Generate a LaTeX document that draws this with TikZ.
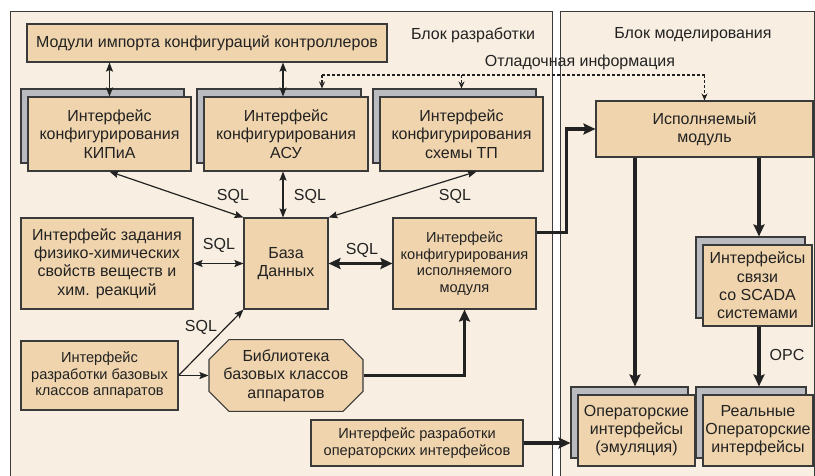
\documentclass[tikz,border=0pt]{standalone}
\usepackage{fontspec}
\setmainfont{Liberation Sans}
\usetikzlibrary{
        arrows.meta,
        positioning,
        shadows,
        shapes.misc
    }
\definecolor{boxfill}{HTML}{EFD4AD}
\definecolor{panelfill}{HTML}{F8EEE1}
\definecolor{shadowgray}{HTML}{B9BBC0}
\definecolor{edgegray}{HTML}{3A3A3A}
\definecolor{inkgray}{HTML}{222222}
\tikzset{>={Stealth[length=9pt,width=7pt,inset=1.5pt]},auto}
\tikzset{bigtip/.tip={Stealth[length=12pt,width=11pt,inset=2pt]}}
\tikzset{
        block/.style={draw=edgegray,fill=boxfill,line width=1.1pt,inner sep=0pt,align=center,
            text=inkgray,font=\fontsize{16}{18.3}\selectfont},
        smallblock/.style={block,font=\fontsize{14.6}{16.5}\selectfont},
        stacked/.style={copy shadow={shadow xshift=-7pt,shadow yshift=8pt,fill=shadowgray,
            draw=edgegray,line width=1.1pt}},
        panel/.style={draw=edgegray,fill=panelfill,line width=0.9pt},
        lbl/.style={text=inkgray,font=\fontsize{16}{18}\selectfont},
        sqlline/.style={<->,line width=1.2pt,draw=inkgray},
        oneway/.style={->,line width=1.2pt,draw=inkgray},
        bigline/.style={-bigtip,line width=3.5pt,draw=inkgray},
        dbgline/.style={densely dashed,line width=1.1pt,draw=inkgray,
            -{Stealth[length=7pt,width=6pt]}}
    }

\begin{document}
\begin{tikzpicture}[x=1pt,y=-1pt]
                \useasboundingbox (0,0) rectangle (815,475);
                % panels
                \path[panel] (10,11) rectangle (552,480);
                \path[panel] (560,11) rectangle (814,480);
                \node[lbl] (devtitle) at (473,35) {Блок разработки};
                \node[lbl] (simtitle) at (693,35) {Блок моделирования};
                \node[lbl] (dbgtitle) at (580,62) {Отладочная информация};

                % development block
                \node[block,minimum width=360pt,minimum height=38pt] (mods) at (207,43) {Модули импорта конфигураций контроллеров};
                \node[block,stacked,minimum width=163pt,minimum height=74pt] (kip) at (109.5,134) {Интерфейс\\конфигурирования\\КИПиА};
                \node[block,stacked,minimum width=164pt,minimum height=74pt] (asu) at (286,134) {Интерфейс\\конфигурирования\\АСУ};
                \node[block,stacked,minimum width=163pt,minimum height=74pt] (tp) at (461.5,134) {Интерфейс\\конфигурирования\\схемы ТП};
                \node[block,minimum width=84pt,minimum height=91pt] (db) at (286,263.5) {База\\Данных};
                \node[block,minimum width=172pt,minimum height=91pt] (chem) at (107,263.5) {Интерфейс задания\\физико-химических\\свойств веществ и\\хим. реакций};
                \node[smallblock,minimum width=143pt,minimum height=91pt] (cfgexe) at (464.5,263.5) {Интерфейс\\конфигурирования\\исполняемого\\модуля};
                \node[smallblock,minimum width=157pt,minimum height=69pt] (devbase) at (99.5,375.5) {Интерфейс\\разработки базовых\\классов аппаратов};
                \node[block,chamfered rectangle,chamfered rectangle xsep=10pt,chamfered rectangle ysep=10pt,
                    minimum width=154pt,minimum height=69pt] (lib) at (286,375.5) {Библиотека\\базовых классов\\аппаратов};
                \node[smallblock,minimum width=212pt,minimum height=46pt] (opdev) at (417,443) {Интерфейс разработки\\операторских интерфейсов};

                % simulation block
                \node[block,minimum width=217pt,minimum height=56pt] (exe) at (704.5,129) {Исполняемый\\модуль};
                \node[block,stacked,minimum width=117pt,minimum height=71pt] (emu) at (636.5,430.5) {Операторские\\интерфейсы\\(эмуляция)};
                \node[block,stacked,minimum width=109pt,minimum height=81pt] (scada) at (757.5,285.5) {Интерфейсы\\связи\\со SCADA\\системами};
                \node[block,stacked,minimum width=110pt,minimum height=71pt] (real) at (758,430.5) {Реальные\\Операторские\\интерфейсы};

                % helper points
                \coordinate (asuin) at ([xshift=-3pt]asu.north);
                \coordinate (asuout) at ([xshift=-3pt]asu.south);
                \coordinate (tpout) at ([xshift=15pt]tp.south);
                \coordinate (dbgL) at (322,75);
                \coordinate (dbgR) at (dbgL -| exe.north);
                \coordinate (emutop) at ([xshift=-1.5pt,yshift=8pt]emu.north);
                \coordinate (emuleft) at ([xshift=-7pt]emu.west);
                \coordinate (scadatop) at ([xshift=1.5pt,yshift=8pt]scada.north);
                \coordinate (realtop) at ([xshift=1pt,yshift=8pt]real.north);
                \coordinate (bend) at ([xshift=-29pt]exe.west);

                % connectors
                \draw[sqlline] (mods.south -| kip.north) -- (kip.north);
                \draw[sqlline] (mods.south -| asuin) -- (asuin);
                \draw[sqlline] (kip.south) -- (db.north west);
                \draw[sqlline] (asuout) -- (asuout |- db.north);
                \draw[sqlline] (tpout) -- (db.north east);
                \draw[sqlline] (chem.east) -- (db.west);
                \draw[oneway] (devbase.east) -- (db.south west);
                \draw[oneway] (devbase.east) -- (lib.west);
                \draw[bigline,bigtip-bigtip] (db.east) -- (cfgexe.west);
                \draw[bigline] (lib.east) -| (cfgexe.south);
                \draw[bigline] ([yshift=-15pt]cfgexe.north east) -| (bend) -- (exe.west);
                \draw[bigline] (opdev.east) -- (opdev.east -| emuleft);
                \draw[bigline] (exe.south -| emutop) -- (emutop);
                \draw[bigline] (exe.south -| scadatop) -- (scadatop);
                \draw[bigline] (scada.south -| realtop) -- (realtop);
                \draw[densely dashed,line width=1.1pt,draw=inkgray] (dbgL) -- (dbgR);
                \draw[dbgline,shorten >=8pt] (dbgL) -- (dbgL |- asu.north);
                \draw[dbgline,shorten >=8pt] (dbgL -| tp.north) -- (tp.north);
                \draw[dbgline] (dbgR) -- (exe.north);

                % connector labels
                \node[lbl] (sqlkip) at (233,196) {SQL};
                \node[lbl] (sqlasu) at (310,196) {SQL};
                \node[lbl] (sqltp) at (455,196) {SQL};
                \node[lbl] (sqlchem) at (219,245) {SQL};
                \node[lbl] (sqlexe) at (362,250) {SQL};
                \node[lbl] (sqlbase) at (201,327) {SQL};
                \node[lbl] (opc) at (787,355) {OPC};
            \end{tikzpicture}
\end{document}
